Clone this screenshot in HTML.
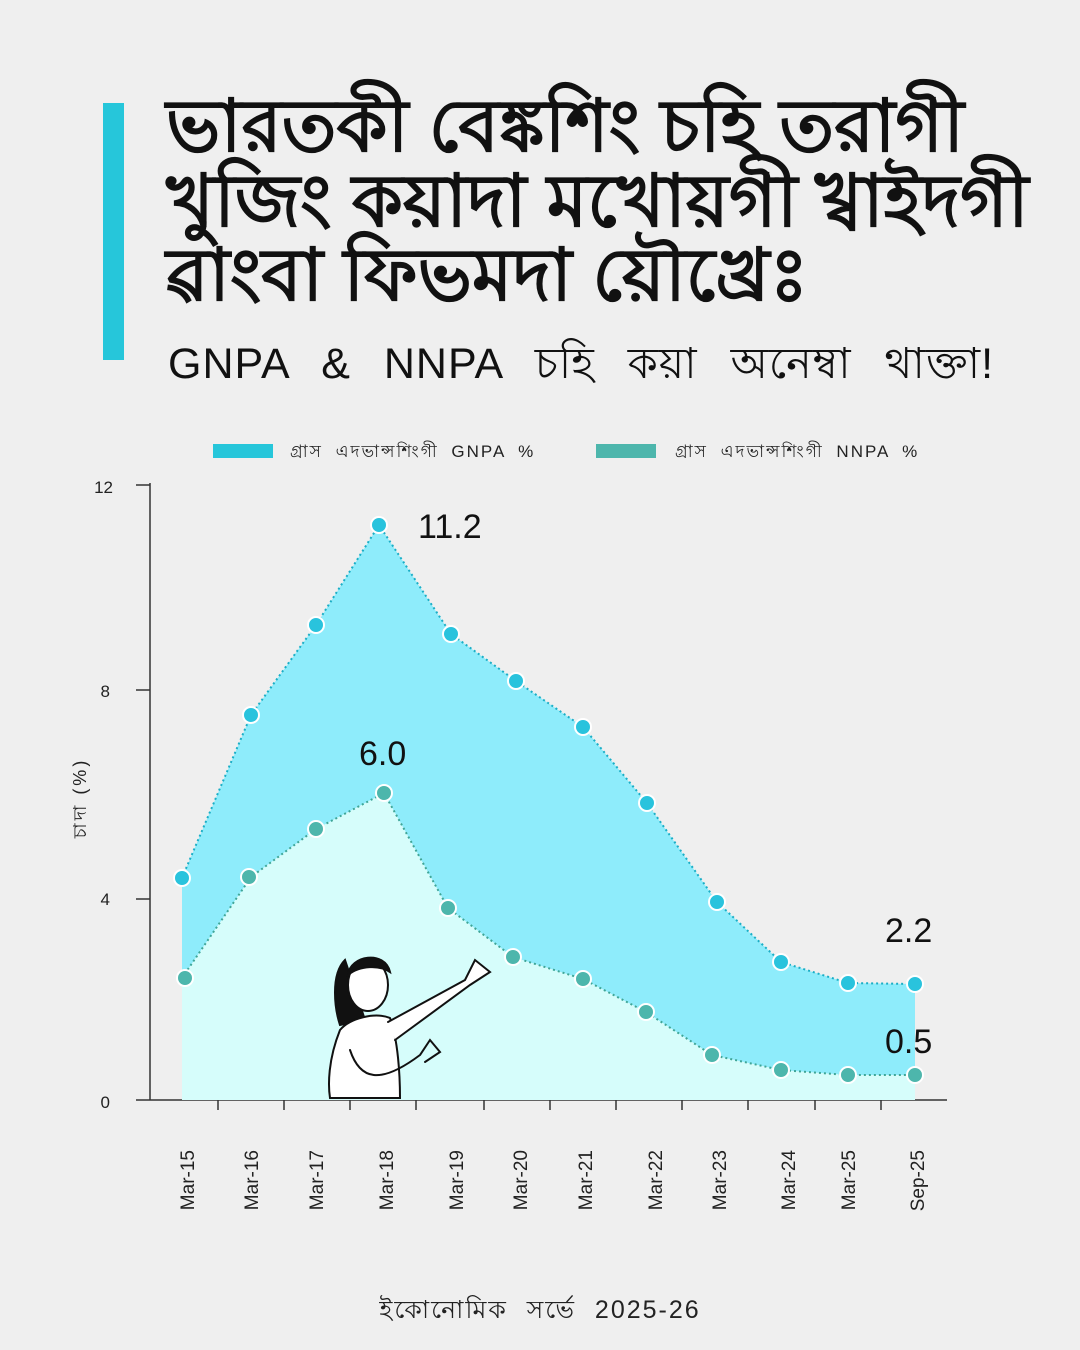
<!DOCTYPE html>
<html><head><meta charset="utf-8"><style>
html,body{margin:0;padding:0;}
body{width:1080px;height:1350px;background:#efefef;position:relative;overflow:hidden;font-family:"Liberation Sans","DejaVu Sans",sans-serif;}
.bar{position:absolute;left:103px;top:103px;width:21px;height:257px;background:#26c6da;}
.t{position:absolute;left:166px;font-weight:bold;font-size:73px;color:#111;white-space:nowrap;line-height:1;}
.sub{position:absolute;left:168px;top:332px;font-size:43px;color:#111;white-space:nowrap;word-spacing:20px;letter-spacing:1px;}
.foot{position:absolute;left:0;width:1080px;text-align:center;top:1290px;font-size:25px;color:#222;letter-spacing:2px;word-spacing:10px;}
</style></head><body>
<div class="bar"></div>
<div class="t" style="top:90px">ভারতকী বেঙ্কশিং চহি তরাগী</div>
<div class="t" style="top:165px">খুজিং কয়াদা মখোয়গী খ্বাইদগী</div>
<div class="t" style="top:239px">ৱাংবা ফিভমদা য়ৌখ্রেঃ</div>
<div class="sub">GNPA &amp; NNPA চহি কয়া অনেম্বা থাক্তা!</div>
<svg width="1080" height="1350" style="position:absolute;left:0;top:0" xmlns="http://www.w3.org/2000/svg" font-family="Liberation Sans, DejaVu Sans, sans-serif">
<rect x="213" y="444" width="60" height="14" fill="#26c6da"/>
<text x="290" y="457" font-size="17" fill="#222" letter-spacing="2" word-spacing="6">গ্রাস এদভান্সশিংগী GNPA %</text>
<rect x="596" y="444" width="60" height="14" fill="#4db6ac"/>
<text x="675" y="457" font-size="17" fill="#222" letter-spacing="2" word-spacing="6">গ্রাস এদভান্সশিংগী NNPA %</text>
<g font-size="17" fill="#222" text-anchor="end">
<text x="113" y="493">12</text><text x="110" y="697">8</text><text x="110" y="905">4</text><text x="110" y="1108">0</text>
</g>
<g stroke="#333" stroke-width="1.5">
<line x1="150" y1="483" x2="150" y2="1100"/>
<line x1="150" y1="1100" x2="947" y2="1100"/>
<line x1="136" y1="485" x2="150" y2="485"/>
<line x1="136" y1="690" x2="150" y2="690"/>
<line x1="136" y1="899" x2="150" y2="899"/>
<line x1="136" y1="1100" x2="150" y2="1100"/>
<line x1="218" y1="1100" x2="218" y2="1110"/><line x1="284" y1="1100" x2="284" y2="1110"/>
<line x1="350" y1="1100" x2="350" y2="1110"/><line x1="416" y1="1100" x2="416" y2="1110"/>
<line x1="484" y1="1100" x2="484" y2="1110"/><line x1="550" y1="1100" x2="550" y2="1110"/>
<line x1="616" y1="1100" x2="616" y2="1110"/><line x1="682" y1="1100" x2="682" y2="1110"/>
<line x1="748" y1="1100" x2="748" y2="1110"/><line x1="815" y1="1100" x2="815" y2="1110"/>
<line x1="881" y1="1100" x2="881" y2="1110"/>
</g>
<text transform="translate(86,798) rotate(-90)" font-size="18" fill="#222" text-anchor="middle" letter-spacing="3">চাদা (%)</text>
<polygon fill="#8eecfb" points="182,878 251,715 316,625 379,525 451,634 516,681 583,727 647,803 717,902 781,962 848,983 915,984 915,1100 182,1100"/>
<polygon fill="#d6fdfb" points="182,978 251,877 316,829 384,793 448,908 513,957 583,979 646,1012 712,1055 781,1070 848,1075 915,1075 915,1100 182,1100"/>
<polyline fill="none" stroke="#1aaec6" stroke-width="2" stroke-dasharray="2,3" points="182,878 251,715 316,625 379,525 451,634 516,681 583,727 647,803 717,902 781,962 848,983 915,984"/>
<polyline fill="none" stroke="#3fa597" stroke-width="2" stroke-dasharray="2,3" points="182,978 251,877 316,829 384,793 448,908 513,957 583,979 646,1012 712,1055 781,1070 848,1075 915,1075"/>
<g fill="#29c3dd" stroke="#fff" stroke-width="2">
<circle cx="182" cy="878" r="8"/><circle cx="251" cy="715" r="8"/><circle cx="316" cy="625" r="8"/><circle cx="379" cy="525" r="8"/><circle cx="451" cy="634" r="8"/><circle cx="516" cy="681" r="8"/><circle cx="583" cy="727" r="8"/><circle cx="647" cy="803" r="8"/><circle cx="717" cy="902" r="8"/><circle cx="781" cy="962" r="8"/><circle cx="848" cy="983" r="8"/><circle cx="915" cy="984" r="8"/>
</g>
<g fill="#4db6ac" stroke="#fff" stroke-width="2">
<circle cx="185" cy="978" r="8"/><circle cx="249" cy="877" r="8"/><circle cx="316" cy="829" r="8"/><circle cx="384" cy="793" r="8"/><circle cx="448" cy="908" r="8"/><circle cx="513" cy="957" r="8"/><circle cx="583" cy="979" r="8"/><circle cx="646" cy="1012" r="8"/><circle cx="712" cy="1055" r="8"/><circle cx="781" cy="1070" r="8"/><circle cx="848" cy="1075" r="8"/><circle cx="915" cy="1075" r="8"/>
</g>
<g font-size="34" fill="#111">
<text x="418" y="538">11.2</text><text x="359" y="765">6.0</text><text x="885" y="942">2.2</text><text x="885" y="1053">0.5</text>
</g>
<g fill="none" stroke="#111" stroke-width="2" stroke-linecap="round">
<path d="M345,960 C330,975 335,1010 340,1025 L365,1020 Z" fill="#111"/>
<ellipse cx="368" cy="985" rx="20" ry="26" fill="#fff"/>
<path d="M348,975 C350,955 385,950 390,972 C380,965 360,965 348,975 Z" fill="#111"/>
<path d="M340,1030 C328,1060 328,1085 330,1098 L400,1098 C400,1075 398,1040 390,1018 C375,1012 350,1018 340,1030 Z" fill="#fff"/>
<path d="M388,1022 L465,980 L475,960 L490,972 L470,985 L395,1040" fill="#fff"/>
<path d="M350,1050 C360,1080 380,1085 420,1055 L430,1040 L440,1052 L425,1062"/>
</g>
<g font-size="19" fill="#222" text-anchor="end">
<text transform="translate(194,1150) rotate(-90)">Mar-15</text>
<text transform="translate(258,1150) rotate(-90)">Mar-16</text>
<text transform="translate(323,1150) rotate(-90)">Mar-17</text>
<text transform="translate(393,1150) rotate(-90)">Mar-18</text>
<text transform="translate(463,1150) rotate(-90)">Mar-19</text>
<text transform="translate(527,1150) rotate(-90)">Mar-20</text>
<text transform="translate(592,1150) rotate(-90)">Mar-21</text>
<text transform="translate(662,1150) rotate(-90)">Mar-22</text>
<text transform="translate(726,1150) rotate(-90)">Mar-23</text>
<text transform="translate(795,1150) rotate(-90)">Mar-24</text>
<text transform="translate(855,1150) rotate(-90)">Mar-25</text>
<text transform="translate(924,1150) rotate(-90)">Sep-25</text>
</g>
</svg>
<div class="foot">ইকোনোমিক সর্ভে 2025-26</div>
</body></html>
